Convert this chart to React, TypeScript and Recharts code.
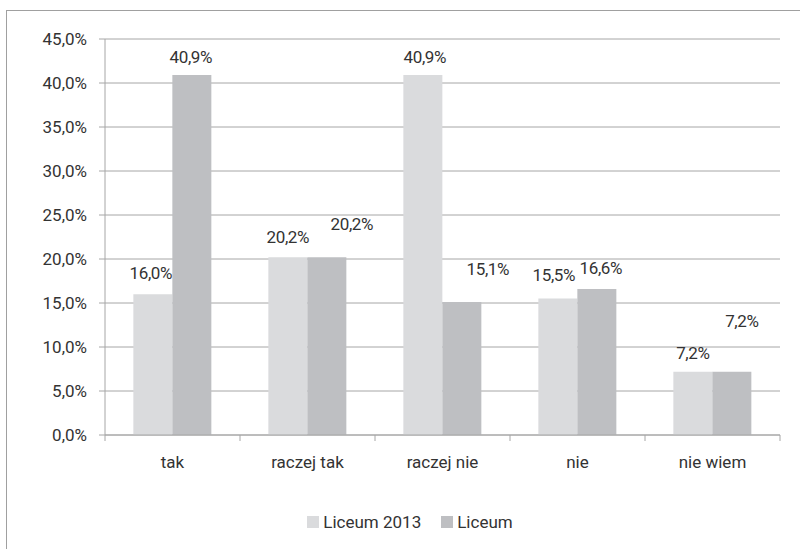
import React from "react"
import {
  BarChart,
  Bar,
  XAxis,
  YAxis,
  CartesianGrid,
  Legend,
  LabelList
} from "recharts"

const categories = ["tak", "raczej tak", "raczej nie", "nie", "nie wiem"]
const liceum2013 = [16.0, 20.2, 40.9, 15.5, 7.2]
const liceum = [40.9, 20.2, 15.1, 16.6, 7.2]
const yTicks = [0, 5, 10, 15, 20, 25, 30, 35, 40, 45]

// label nudges (dx, dy) copied from the hand-placed labels in the original
const nudge2013 = [[-2, -2], [0, -1], [2, 1], [-4, -5], [0, 0]]
const nudgeLiceum = [[-1, 1], [25, -14], [26, -14], [4, -2], [10, -32]]

const data = categories.map((name, i) => ({
  name,
  l2013: liceum2013[i],
  l: liceum[i]
}))

const FONT = "Roboto, 'Noto Sans', sans-serif"
const TEXT = "#333333"
const LINE = "#a6a6a6"
const LIGHT = "#dadbdd"
const DARK = "#bebfc2"
const FS = 17

const W = 800
const H = 549
const LEFT = 105
const RIGHT = 20
const HALF_BAND = (W - LEFT - RIGHT) / categories.length / 2

const pct = (v: number) => v.toFixed(1).replace(".", ",") + "%"

function makeLabel(nudges: number[][]) {
  return (props: any) => {
    const { x, y, width, value, index } = props
    const [dx, dy] = nudges[index] || [0, 0]
    return (
      <text
        x={x + width / 2 + dx}
        y={y - 19 + dy}
        textAnchor="middle"
        dominantBaseline="central"
        fill={TEXT}
        fontSize={FS}
        fontFamily={FONT}
        letterSpacing={-0.4}
      >
        {pct(value)}
      </text>
    )
  }
}

function XTick(props: any) {
  const { x, payload, index } = props
  return (
    <g>
      <line x1={x - HALF_BAND} x2={x - HALF_BAND} y1={435} y2={441} stroke={LINE} />
      {index === categories.length - 1 && (
        <line x1={x + HALF_BAND} x2={x + HALF_BAND} y1={435} y2={441} stroke={LINE} />
      )}
      <text
        x={x}
        y={462}
        textAnchor="middle"
        dominantBaseline="central"
        fill={TEXT}
        fontSize={FS}
        fontFamily={FONT}
      >
        {payload.value}
      </text>
    </g>
  )
}

function LegendBox(props: any) {
  const items = [...(props.payload || [])].sort((a: any, b: any) =>
    a.dataKey === "l2013" ? -1 : b.dataKey === "l2013" ? 1 : 0
  )
  return (
    <div
      style={{
        display: "flex",
        justifyContent: "center",
        alignItems: "center",
        paddingLeft: 40,
        fontFamily: FONT,
        fontSize: FS,
        color: TEXT,
        height: 24
      }}
    >
      {items.map((it: any, i: number) => (
        <div key={i} style={{ display: "flex", alignItems: "center", marginLeft: i ? 20 : 0 }}>
          <span style={{ width: 12, height: 12, background: it.color, display: "inline-block", marginRight: 4 }} />
          <span>{it.value}</span>
        </div>
      ))}
    </div>
  )
}

export default function App() {
  return (
    <div style={{ position: "absolute", left: 0, top: 0, width: W, height: H, overflow: "hidden", background: "#fff" }}>
      <div
        style={{
          position: "absolute",
          left: 6,
          top: 10,
          width: 820,
          height: 600,
          border: "1px solid #a0a0a0"
        }}
      />
      <div style={{ position: "absolute", left: 0, top: 0 }}>
        <BarChart
          width={W}
          height={H}
          data={data}
          margin={{ top: 39, right: RIGHT, bottom: 15, left: 0 }}
          barCategoryGap="21%"
          barGap={0}
        >
          <CartesianGrid vertical={false} stroke={LINE} strokeWidth={1} />
          <XAxis
            dataKey="name"
            height={75}
            axisLine={{ stroke: LINE }}
            tickLine={false}
            tick={<XTick />}
            interval={0}
          />
          <YAxis
            width={LEFT}
            domain={[0, 45]}
            ticks={yTicks}
            interval={0}
            tickFormatter={pct}
            axisLine={{ stroke: LINE }}
            tickLine={{ stroke: LINE }}
            tickSize={6}
            tickMargin={12}
            tick={{ fill: TEXT, fontSize: FS, fontFamily: FONT }}
          />
          <Legend verticalAlign="bottom" height={24} content={<LegendBox />} />
          <Bar dataKey="l2013" name="Liceum 2013" fill={LIGHT} isAnimationActive={false}>
            <LabelList dataKey="l2013" content={makeLabel(nudge2013)} />
          </Bar>
          <Bar dataKey="l" name="Liceum" fill={DARK} isAnimationActive={false}>
            <LabelList dataKey="l" content={makeLabel(nudgeLiceum)} />
          </Bar>
        </BarChart>
      </div>
    </div>
  )
}
